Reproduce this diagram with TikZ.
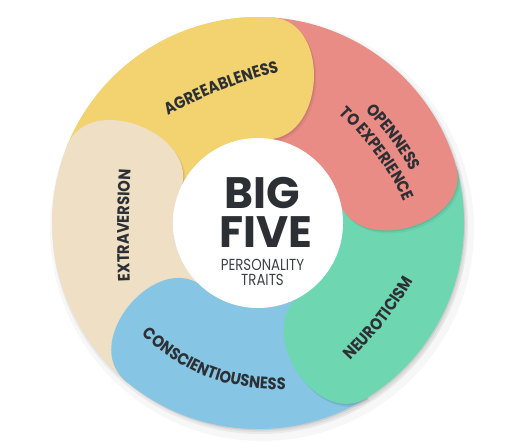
\documentclass[tikz,border=0pt]{standalone}
\usepackage{fontspec}
\setmainfont{Poppins}
\newfontfamily\labelfamily[FakeStretch=0.88]{Poppins}
\usepackage{tikz}
\usetikzlibrary{decorations.text}

\definecolor{agreeyellow}{HTML}{F3D36F}
\definecolor{openred}{HTML}{EA8C86}
\definecolor{neurogreen}{HTML}{6ED7B2}
\definecolor{conscblue}{HTML}{86C5E3}
\definecolor{extrabeige}{HTML}{EEDFC5}
\definecolor{textdark}{HTML}{2C3034}
\definecolor{traitgrey}{HTML}{3E4245}

\pgfdeclareradialshading{centreglow}{\pgfpoint{6bp}{6bp}}{color(0bp)=(white); color(28bp)=(white); color(42bp)=(black!10); color(50bp)=(black!30)}

\newcommand{\labelfont}{\labelfamily\bfseries\fontsize{12.5}{14}\selectfont}
% ring piece from angle #1 clockwise to #2, round end at #2
\newcommand{\petalpath}[2]{(#1:206) arc[start angle=#1, end angle=#2, radius=206] .. controls +(#2-90:61) and +(#2-90:61) .. (#2:84) arc[start angle=#2, end angle=#1, radius=84] -- cycle}
\newcommand{\petalshadow}[2]{%
  \fill[black, opacity=0.05, shift={(2.5,-3)}] \petalpath{#1}{#2};
  \fill[black, opacity=0.08, shift={(1,-1.3)}] \petalpath{#1}{#2};
}
\newcommand{\petal}[3]{%
  \petalshadow{#1}{#2}
  \fill[#3] \petalpath{#1}{#2};
}

\begin{document}
\begin{tikzpicture}[x=0.75pt,y=0.75pt,yscale=-1,xscale=1,
  trait label/.style={decorate, decoration={text along path, text={|\labelfont|#1}, text align=center, text color=textdark}},
  centre word/.style={font=\bfseries\fontsize{33}{33}\selectfont, text=textdark, anchor=base, inner sep=0pt},
  centre small/.style={font=\fontsize{10}{12}\selectfont, text=traitgrey, anchor=base, inner sep=0pt}]
\fill[white] (0,0) rectangle (530,442);
\useasboundingbox (0,0) rectangle (530,442);

\begin{scope}[shift={(258,223)},yscale=-1]
%soft shadow under the ring
\fill[black, opacity=0.03] (4,-6) circle[radius=212];
\fill[black, opacity=0.05] (2,-3) circle[radius=208];

%petals
\petal{158}{86}{agreeyellow}
\petal{-130}{-202}{extrabeige}
\petal{-58}{-130}{conscblue}
\petal{16}{-58}{neurogreen}
\petal{86}{16}{openred}
%end of the yellow one lies over the red one
\begin{scope}
\clip (0,0) -- (86:240) arc[start angle=86, end angle=30, radius=240] -- cycle;
\petalshadow{158}{86}
\end{scope}
\begin{scope}
\clip (0,0) -- (100:240) arc[start angle=100, end angle=30, radius=240] -- cycle;
\fill[agreeyellow] \petalpath{158}{86};
\end{scope}

%centre disc
\shade[shading=centreglow] (0,0) circle[radius=85];

%curved labels
\path[trait label=AGREEABLENESS] (-100.2,101.6) .. controls (-62,125.4) and (-11.3,144.1) .. (32.7,153.5);
\path[trait label=OPENNESS] (98.5,121.5) .. controls (123.2,96.8) and (144.2,71.7) .. (159,40);
\path[trait label=TO EXPERIENCE] (71.5,119.5) .. controls (105.4,85.6) and (134.7,53.8) .. (151.1,8.7);
\path[trait label=NEUROTICISM] (83.5,-147.5) .. controls (111.8,-119.2) and (144.2,-82.4) .. (161.1,-46.1);
\path[trait label=CONSCIENTIOUSNESS] (-126.5,-101.5) .. controls (-69.9,-158.1) and (-28,-167) .. (42,-167);
\path[trait label=EXTRAVERSION] (-127.5,-72) .. controls (-130,-27) and (-129.5,23) .. (-126.5,67);
\end{scope}

% Text Node
\node[centre word] (big) at (262,208) {BIG};
% Text Node
\node[centre word] (five) at (266,247) {FIVE};
% Text Node
\node[centre small] (personality) at (262.5,270) {\scalebox{1}[1.2]{PERSONALITY}};
% Text Node
\node[centre small] (traits) at (262.5,285) {\scalebox{1}[1.2]{TRAITS}};

\end{tikzpicture}
\end{document}
